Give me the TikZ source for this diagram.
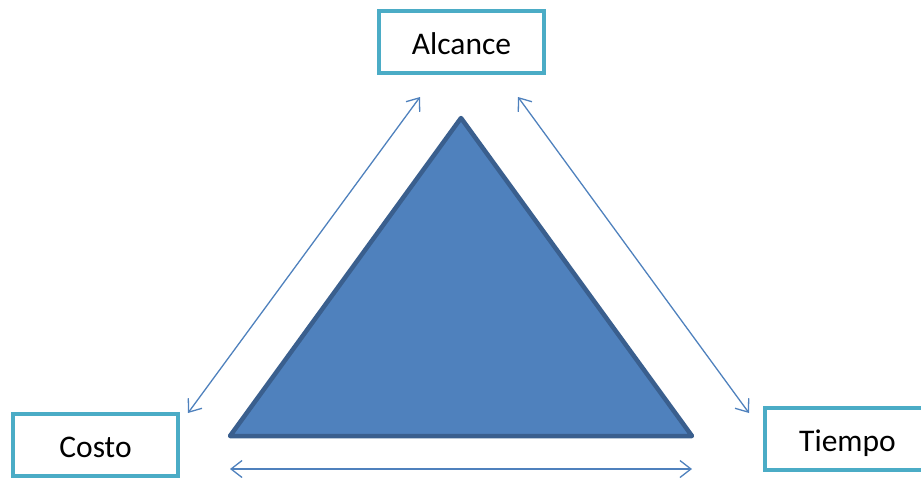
\documentclass[tikz,border=0pt]{standalone}
\usepackage{fontspec}
\setmainfont{Carlito}
\usepackage{xcolor}
\usetikzlibrary{arrows.meta}

\definecolor{boxaqua}{HTML}{4BACC6}
\definecolor{triblue}{HTML}{4F81BD}
\definecolor{triedge}{HTML}{3A5F8E}

\tikzset{
    labelbox/.style={draw=boxaqua, line width=4.5pt, fill=white,
        minimum width=165pt, minimum height=62pt, inner sep=0pt,
        text height=30pt, text depth=6pt,
        font=\fontsize{31.5}{36}\selectfont},
    link/.style={draw=triblue, line width=1.3pt,
        {Straight Barb[length=11pt,width=17pt]}-{Straight Barb[length=11pt,width=17pt]}}
}

\begin{document}
\begin{tikzpicture}[x=1pt, y=-1pt]
    \useasboundingbox (0,0) rectangle (921,477);
    \clip (0,0) rectangle (921,477);

    % Triangle
    \coordinate (apex) at (461,118);
    \coordinate (base left) at (230,436);
    \coordinate (base right) at (692,436);
    \draw[fill=triblue, draw=triedge, line width=4.5pt, line join=round]
        (apex) -- (base left) -- (base right) -- cycle;

    % Boxes
    \node[labelbox] (alcance) at (461.5,42) {Alcance};
    \node[labelbox] (costo) at (95.5,445) {Costo};
    \node[labelbox] (tiempo) at (847.5,439) {Tiempo};

    % Arrow ends
    \coordinate (alcance left) at (420,97);
    \coordinate (alcance right) at (518,97);
    \coordinate (costo top) at (188,413);
    \coordinate (tiempo top) at (749,413);
    \coordinate (base arrow left) at (230,469);
    \coordinate (base arrow right) at (692,469);

    \draw[link] (alcance left) -- (costo top);
    \draw[link] (alcance right) -- (tiempo top);
    \draw[link] (base arrow left) -- (base arrow right);
\end{tikzpicture}
\end{document}
